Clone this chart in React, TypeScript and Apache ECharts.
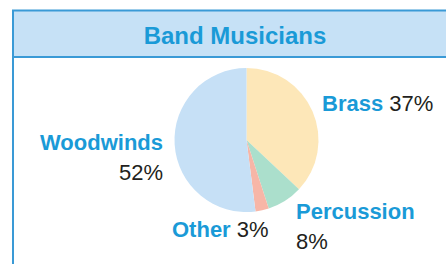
import React, { useEffect, useRef } from "react";
import * as echarts from "echarts";

const title = "Band Musicians";
const categories = ["Brass", "Percussion", "Other", "Woodwinds"];
const percents = [37, 8, 3, 52];
const sliceColors = ["#fde7b8", "#abdfcc", "#f7b6a7", "#c6e0f6"];

// label placement (layout only)
const labelLayoutCfg = [
  { x: 322, y: 103, align: "left", twoLine: false },
  { x: 296, y: 226, align: "left", twoLine: true },
  { x: 172, y: 229.5, align: "left", twoLine: false },
  { x: 163, y: 157.5, align: "right", twoLine: true },
];

const BLUE = "#1a9ad7";
const DARK = "#231f20";
const FAMILY = "'Liberation Sans', Arial, sans-serif";

export default function App() {
  const ref = useRef<HTMLDivElement>(null);
  useEffect(() => {
    if (!ref.current) return;
    const chart = echarts.init(ref.current, undefined, { renderer: "svg" });
    chart.setOption({
      animation: false,
      backgroundColor: "#ffffff",
      graphic: [
        {
          type: "rect",
          shape: { x: 13, y: 10.5, width: 440, height: 46.5 },
          style: { fill: "#c6e1f6", stroke: "#3a9ad6", lineWidth: 2 },
          z: 1,
        },
        {
          type: "line",
          shape: { x1: 13, y1: 10, x2: 13, y2: 264 },
          style: { stroke: "#3a9ad6", lineWidth: 2 },
          z: 2,
        },
        {
          type: "text",
          x: 235,
          y: 35,
          style: {
            text: title,
            font: "bold 24px 'Liberation Sans', Arial, sans-serif",
            fill: BLUE,
            textAlign: "center",
            textVerticalAlign: "middle",
          },
          z: 3,
        },
      ],
      series: [
        {
          type: "pie",
          center: [246.5, 140],
          radius: [0, 72],
          startAngle: 90,
          clockwise: true,
          silent: true,
          itemStyle: { borderWidth: 0 },
          labelLine: { show: false },
          data: categories.map((c, i) => ({
            name: c,
            value: percents[i],
            itemStyle: { color: sliceColors[i] },
          })),
          label: {
            show: true,
            position: "outside",
            overflow: "none",
            fontSize: 22,
            fontFamily: FAMILY,
            formatter: (p: any) => {
              const cfg = labelLayoutCfg[p.dataIndex];
              return `{n|${p.name}}${cfg.twoLine ? "\n" : "{v| }"}{v|${p.value}%}`;
            },
            rich: {
              n: {
                fontSize: 22,
                fontWeight: "bold",
                fontFamily: FAMILY,
                color: BLUE,
                lineHeight: 30,
              },
              v: {
                fontSize: 22,
                fontWeight: "normal",
                fontFamily: FAMILY,
                color: DARK,
                lineHeight: 30,
              },
            },
          },
          labelLayout: (params: any) => {
            const cfg = labelLayoutCfg[params.dataIndex];
            return {
              x: cfg.x,
              y: cfg.y,
              align: cfg.align,
              verticalAlign: "middle",
              hideOverlap: false,
              moveOverlap: false,
            };
          },
        },
      ],
    });
    return () => chart.dispose();
  }, []);
  return (
    <div
      ref={ref}
      style={{ position: "absolute", left: 0, top: 0, width: 446, height: 264 }}
    />
  );
}
